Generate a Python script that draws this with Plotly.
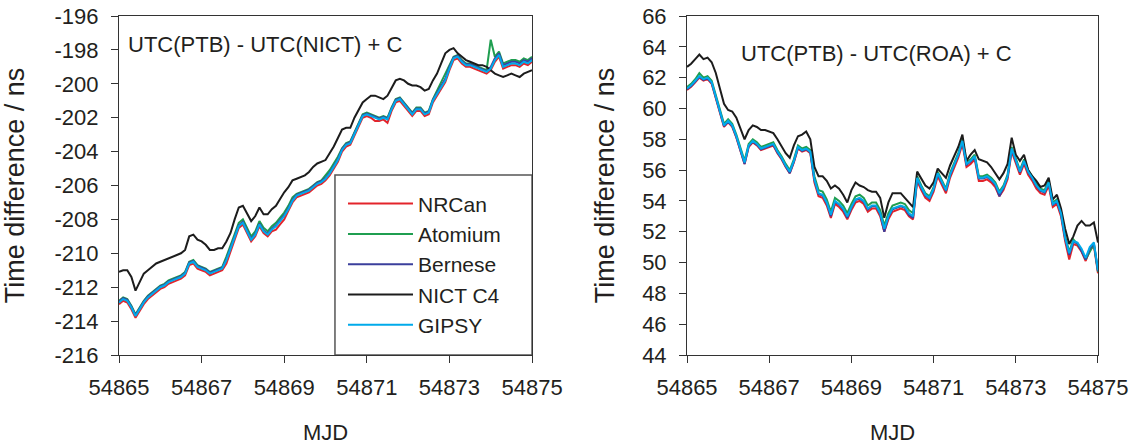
import numpy as np
import plotly.graph_objects as go

# MJD sample positions (0.1 day spacing)
mjd = np.round(np.arange(54865.0, 54875.0001, 0.1), 1)

series_names = ["NRCan", "Atomium", "Bernese", "NICT C4", "GIPSY"]
series_colors = ["#e3242b", "#1f9e50", "#3b3f9c", "#1c1c1c", "#00aaea"]

# ---- UTC(PTB) - UTC(NICT) + C  (ns)
nict_nrcan = [-213.0,-212.8,-212.9,-213.3,-213.8,-213.4,-213.0,-212.7,-212.5,-212.3,
 -212.1,-212.0,-211.8,-211.7,-211.6,-211.5,-211.3,-210.7,-210.6,-210.9,
 -211.0,-211.1,-211.3,-211.2,-211.1,-211.0,-210.6,-209.9,-209.2,-208.5,
 -208.3,-208.8,-209.3,-209.0,-208.4,-208.8,-209.0,-208.7,-208.6,-208.3,
 -208.0,-207.5,-207.0,-206.7,-206.6,-206.5,-206.4,-206.2,-206.0,-205.9,
 -205.7,-205.4,-205.0,-204.6,-204.0,-203.7,-203.6,-203.1,-202.6,-202.0,
 -201.9,-202.0,-202.2,-202.2,-202.1,-202.3,-201.6,-201.1,-201.0,-201.3,
 -201.6,-201.9,-201.6,-201.6,-201.9,-201.8,-201.1,-200.7,-200.3,-199.9,
 -199.2,-198.6,-198.5,-198.8,-199.0,-199.0,-199.1,-199.2,-199.3,-199.4,
 -199.2,-198.7,-198.4,-199.1,-199.0,-198.9,-198.9,-199.0,-198.8,-198.9,
 -198.7]
nict_atomium = [-212.8,-212.6,-212.7,-213.1,-213.6,-213.2,-212.8,-212.5,-212.3,-212.1,
 -211.9,-211.8,-211.6,-211.5,-211.4,-211.3,-211.1,-210.5,-210.4,-210.7,
 -210.8,-210.9,-211.1,-211.0,-210.9,-210.8,-210.2,-209.5,-208.8,-208.2,
 -208.0,-208.5,-209.0,-208.7,-208.1,-208.5,-208.7,-208.4,-208.2,-207.9,
 -207.6,-207.2,-206.7,-206.5,-206.4,-206.3,-206.2,-206.0,-205.8,-205.7,
 -205.4,-205.1,-204.7,-204.3,-203.8,-203.5,-203.4,-202.9,-202.4,-201.8,
 -201.7,-201.8,-201.9,-202.0,-201.9,-202.0,-201.4,-200.9,-200.8,-201.1,
 -201.4,-201.7,-201.4,-201.4,-201.7,-201.6,-200.9,-200.4,-199.9,-199.4,
 -198.9,-198.4,-198.3,-198.6,-198.8,-198.8,-198.9,-199.0,-199.1,-199.2,
 -197.4,-198.4,-198.1,-198.8,-198.7,-198.6,-198.6,-198.7,-198.5,-198.6,
 -198.4]
nict_bernese = [-212.85,-212.65,-212.75,-213.15,-213.65,-213.25,-212.85,-212.55,-212.35,-212.15,
 -211.95,-211.85,-211.65,-211.55,-211.45,-211.35,-211.15,-210.55,-210.45,-210.75,
 -210.85,-210.95,-211.15,-211.05,-210.95,-210.85,-210.35,-209.65,-208.95,-208.35,
 -208.15,-208.65,-209.15,-208.85,-208.25,-208.65,-208.85,-208.55,-208.35,-208.05,
 -207.75,-207.35,-206.85,-206.55,-206.45,-206.35,-206.25,-206.05,-205.85,-205.75,
 -205.55,-205.25,-204.85,-204.45,-203.85,-203.55,-203.45,-202.95,-202.45,-201.85,
 -201.75,-201.85,-201.95,-202.05,-201.95,-202.05,-201.45,-200.95,-200.85,-201.15,
 -201.45,-201.75,-201.45,-201.45,-201.75,-201.65,-200.95,-200.55,-200.15,-199.7,
 -199.0,-198.45,-198.35,-198.65,-198.85,-198.85,-198.95,-199.05,-199.15,-199.25,
 -199.0,-198.5,-198.2,-198.9,-198.8,-198.7,-198.7,-198.8,-198.6,-198.7,
 -198.5]
nict_c4 = [-211.1,-211.0,-211.0,-211.4,-212.2,-211.7,-211.2,-211.0,-210.8,-210.6,
 -210.5,-210.4,-210.3,-210.2,-210.1,-210.0,-209.8,-209.0,-208.9,-209.2,
 -209.3,-209.5,-209.8,-209.8,-209.7,-209.7,-209.3,-208.8,-208.0,-207.3,
 -207.2,-207.7,-208.1,-207.8,-207.3,-207.7,-207.7,-207.4,-207.2,-206.8,
 -206.4,-206.1,-205.7,-205.6,-205.5,-205.4,-205.2,-204.9,-204.7,-204.6,
 -204.5,-204.1,-203.7,-203.2,-202.7,-202.6,-202.6,-202.0,-201.5,-201.1,
 -200.9,-200.7,-200.7,-200.8,-200.9,-200.7,-200.2,-199.8,-199.7,-199.8,
 -200.0,-200.1,-200.1,-200.2,-200.4,-200.3,-199.8,-199.4,-198.8,-198.2,
 -198.0,-197.9,-198.2,-198.4,-198.6,-198.7,-198.8,-198.9,-198.9,-199.0,
 -199.2,-199.4,-199.5,-199.6,-199.5,-199.4,-199.5,-199.6,-199.4,-199.3,
 -199.2]
nict_gipsy = [-212.9,-212.7,-212.8,-213.2,-213.7,-213.3,-212.9,-212.6,-212.4,-212.2,
 -212.0,-211.9,-211.7,-211.6,-211.5,-211.4,-211.2,-210.6,-210.5,-210.8,
 -210.9,-211.0,-211.2,-211.1,-211.0,-210.9,-210.4,-209.7,-209.0,-208.4,
 -208.2,-208.7,-209.2,-208.9,-208.3,-208.7,-208.9,-208.6,-208.4,-208.1,
 -207.8,-207.4,-206.9,-206.6,-206.5,-206.4,-206.3,-206.1,-205.9,-205.8,
 -205.6,-205.3,-204.9,-204.5,-203.9,-203.6,-203.5,-203.0,-202.5,-201.9,
 -201.8,-201.9,-202.0,-202.1,-202.0,-202.1,-201.5,-201.0,-200.9,-201.2,
 -201.5,-201.8,-201.5,-201.5,-201.8,-201.7,-201.0,-200.6,-200.2,-199.8,
 -199.1,-198.5,-198.4,-198.7,-198.9,-198.9,-199.0,-199.1,-199.2,-199.3,
 -199.1,-198.6,-198.3,-199.0,-198.9,-198.8,-198.8,-198.9,-198.7,-198.8,
 -198.6]

# ---- UTC(PTB) - UTC(ROA) + C  (ns)
roa_nrcan = [61.2,61.4,61.7,62.0,61.8,61.9,61.6,60.7,59.8,58.8,
 59.1,58.8,58.1,57.3,56.4,57.5,57.8,57.6,57.3,57.4,
 57.5,57.6,57.1,56.7,56.2,55.8,56.5,57.4,57.2,57.3,
 57.1,55.2,54.3,54.2,53.7,52.9,53.8,53.6,53.3,52.8,
 53.4,53.9,54.0,53.8,53.3,53.5,53.5,53.0,52.0,52.8,
 53.3,53.4,53.5,53.4,53.0,52.8,55.3,54.7,54.2,54.0,
 54.6,55.6,55.1,54.5,55.5,56.2,56.8,57.7,56.2,56.4,
 56.7,55.3,55.3,55.4,55.2,54.9,54.3,54.7,55.4,57.2,
 56.4,55.7,56.4,55.7,55.3,54.8,54.5,54.4,55.0,53.6,
 53.8,53.0,51.4,50.2,51.2,51.1,50.7,50.1,50.8,51.1,
 49.3]
roa_atomium = [61.4,61.6,61.9,62.3,62.0,62.1,61.8,60.9,60.0,59.0,
 59.3,59.0,58.3,57.5,56.6,57.7,58.0,57.8,57.5,57.6,
 57.7,57.8,57.3,56.9,56.4,56.0,56.7,57.6,57.4,57.5,
 57.3,55.6,54.7,54.6,54.1,53.3,54.2,54.0,53.7,53.2,
 53.8,54.3,54.4,54.2,53.7,53.9,53.9,53.4,52.4,53.2,
 53.7,53.8,53.9,53.8,53.4,53.2,55.6,55.0,54.5,54.3,
 54.9,55.9,55.4,54.8,55.8,56.5,57.1,58.0,56.5,56.7,
 57.0,55.6,55.6,55.7,55.5,55.2,54.6,55.0,55.7,57.5,
 56.7,56.0,56.7,56.0,55.6,55.1,54.8,54.7,55.3,53.9,
 54.1,53.3,51.7,50.7,51.5,51.2,50.8,50.2,50.7,51.2,
 49.4]
roa_bernese = [61.25,61.45,61.75,62.05,61.85,61.95,61.65,60.75,59.85,58.85,
 59.15,58.85,58.15,57.35,56.4,57.55,57.85,57.65,57.35,57.45,
 57.55,57.65,57.15,56.75,56.25,55.8,56.55,57.45,57.25,57.35,
 57.15,55.35,54.45,54.35,53.85,53.0,53.95,53.75,53.45,52.9,
 53.55,54.05,54.15,53.95,53.45,53.65,53.65,53.15,52.0,52.95,
 53.45,53.55,53.65,53.55,53.1,52.9,55.45,54.85,54.35,54.15,
 54.75,55.75,55.25,54.65,55.65,56.35,56.95,57.85,56.35,56.55,
 56.85,55.45,55.45,55.55,55.35,55.05,54.3,54.85,55.55,57.35,
 56.55,55.85,56.55,55.85,55.45,54.95,54.65,54.55,55.15,53.75,
 53.95,53.15,51.55,50.5,51.35,51.25,50.75,50.2,50.9,51.25,
 49.45]
roa_c4 = [62.7,62.9,63.2,63.5,63.2,63.3,63.0,62.3,61.3,60.3,
 59.9,59.8,59.4,58.7,58.0,58.6,58.9,58.8,58.6,58.6,
 58.5,58.4,58.0,57.5,57.1,56.8,57.6,58.2,58.3,58.5,
 58.0,56.2,55.6,55.6,55.3,54.8,55.0,54.8,54.4,53.9,
 54.7,55.2,55.0,54.9,54.7,54.6,54.6,54.2,52.9,53.9,
 54.5,54.5,54.5,54.2,53.9,53.6,55.9,55.4,55.0,54.8,
 55.2,56.1,55.8,55.5,56.3,56.9,57.5,58.3,56.6,57.0,
 57.3,56.7,56.6,56.5,56.2,55.8,55.4,55.8,56.4,58.1,
 57.0,56.6,57.0,56.0,55.6,55.3,54.9,55.0,55.5,54.1,
 54.4,53.5,52.2,51.2,51.7,52.4,52.7,52.4,52.4,52.6,
 51.3]
roa_gipsy = [61.3,61.5,61.8,62.1,61.9,62.0,61.7,60.8,59.9,58.9,
 59.2,58.9,58.2,57.4,56.5,57.6,57.9,57.7,57.4,57.5,
 57.6,57.7,57.2,56.8,56.3,55.9,56.6,57.5,57.3,57.4,
 57.2,55.4,54.5,54.4,53.9,53.1,54.0,53.8,53.5,53.0,
 53.6,54.1,54.2,54.0,53.5,53.7,53.7,53.2,52.2,53.0,
 53.5,53.6,53.7,53.6,53.2,53.0,55.5,54.9,54.4,54.2,
 54.8,55.8,55.3,54.7,55.7,56.4,57.0,57.9,56.4,56.6,
 56.9,55.5,55.5,55.6,55.4,55.1,54.5,54.9,55.6,57.4,
 56.6,55.9,56.6,55.9,55.5,55.0,54.7,54.6,55.2,53.8,
 54.0,53.2,51.6,50.6,51.4,51.3,50.9,50.3,51.0,51.3,
 49.5]

x_ticks = [54865, 54867, 54869, 54871, 54873, 54875]
x_ticktext = ["54865", "54867", "54869", "54871", "54873", "54875"]
nict_yticks = [-216, -214, -212, -210, -208, -206, -204, -202, -200, -198, -196]
nict_yticktext = ["-216", "-214", "-212", "-210", "-208", "-206", "-204", "-202", "-200", "-198", "-196"]
roa_yticks = [44, 46, 48, 50, 52, 54, 56, 58, 60, 62, 64, 66]
roa_yticktext = ["44", "46", "48", "50", "52", "54", "56", "58", "60", "62", "64", "66"]

nict_series = [nict_nrcan, nict_atomium, nict_bernese, nict_c4, nict_gipsy]
roa_series = [roa_nrcan, roa_atomium, roa_bernese, roa_c4, roa_gipsy]

FONT = "Arial, Liberation Sans, sans-serif"
TXT = "#231f20"
AX = "#333333"

fig = go.Figure()
for name, col, ys in zip(series_names, series_colors, nict_series):
    fig.add_trace(go.Scatter(x=mjd, y=ys, mode="lines", name=name,
                             line=dict(color=col, width=2),
                             xaxis="x", yaxis="y", legendgroup=name))
for name, col, ys in zip(series_names, series_colors, roa_series):
    fig.add_trace(go.Scatter(x=mjd, y=ys, mode="lines", name=name,
                             line=dict(color=col, width=2), showlegend=False,
                             xaxis="x2", yaxis="y2", legendgroup=name))

ax_common = dict(showline=True, linecolor=AX, linewidth=1, mirror=True,
                 ticks="outside", ticklen=7, tickwidth=1, tickcolor=AX,
                 showgrid=False, zeroline=False, automargin=False,
                 ticklabeloverflow="allow",
                 tickfont=dict(family=FONT, size=22, color=TXT))

xtitle = dict(text="MJD", font=dict(size=22), standoff=32)

fig.update_layout(
    width=1130, height=445,
    margin=dict(l=119, r=32, t=16, b=90),
    paper_bgcolor="white", plot_bgcolor="white",
    font=dict(family=FONT, color=TXT),
    xaxis=dict(domain=[0, 0.4219], range=[54865, 54875], tickvals=x_ticks,
               ticktext=x_ticktext, tickangle=0, anchor="y", ticklabelstandoff=6,
               title=xtitle, **ax_common),
    yaxis=dict(domain=[0, 1], range=[-216, -196], tickvals=nict_yticks,
               ticktext=nict_yticktext, anchor="x", ticklabelstandoff=8,
               title=dict(text="Time difference / ns", font=dict(size=27), standoff=22),
               **ax_common),
    xaxis2=dict(domain=[0.5802, 1], range=[54865, 54875], tickvals=x_ticks,
                ticktext=x_ticktext, tickangle=0, anchor="y2", ticklabelstandoff=6,
                title=xtitle, **ax_common),
    yaxis2=dict(domain=[0, 1], range=[44, 66], tickvals=roa_yticks,
                ticktext=roa_yticktext, anchor="x2", ticklabelstandoff=8,
                title=dict(text="Time difference / ns", font=dict(size=27), standoff=19),
                **ax_common),
    legend=dict(x=0.2288, y=0.506, xanchor="left", yanchor="top",
                bgcolor="rgba(0,0,0,0)", borderwidth=0,
                font=dict(family=FONT, size=21, color=TXT),
                itemwidth=65, tracegroupgap=0),
    showlegend=True,
)

# legend frame
fig.add_shape(type="rect", xref="paper", yref="paper",
              x0=0.2206, x1=0.4219, y0=0, y1=0.531,
              line=dict(color="#555555", width=1.5), fillcolor="white", layer="below")

fig.add_annotation(text="UTC(PTB) - UTC(NICT) + C", xref="paper", yref="paper",
                   x=0.0075, y=0.917, xanchor="left", yanchor="middle", showarrow=False,
                   font=dict(family=FONT, size=22, color=TXT))
fig.add_annotation(text="UTC(PTB) - UTC(ROA) + C", xref="paper", yref="paper",
                   x=0.7734, y=0.890, xanchor="center", yanchor="middle", showarrow=False,
                   font=dict(family=FONT, size=22, color=TXT))

fig.write_html("out.html", config={"displayModeBar": False},
               post_script="document.body.style.margin='0';document.body.style.overflow='hidden';")
